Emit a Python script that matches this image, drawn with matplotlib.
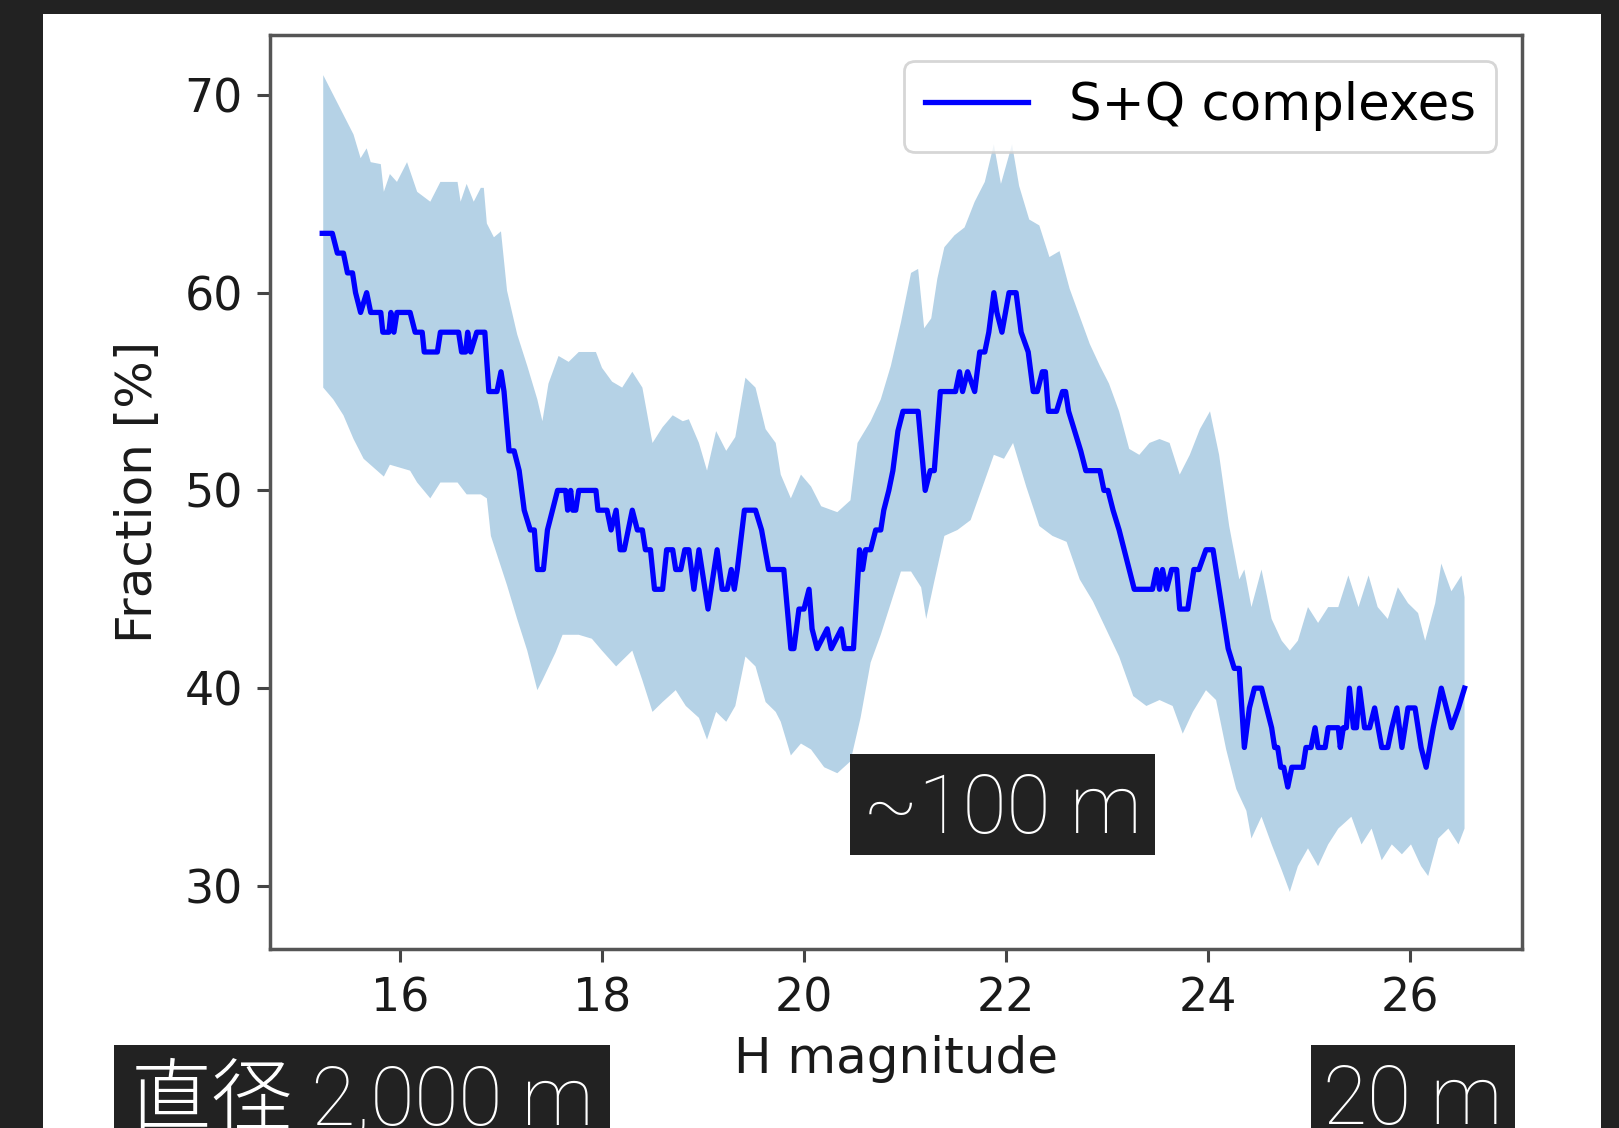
import numpy as np
import matplotlib
matplotlib.use('Agg')
import matplotlib.pyplot as plt
from matplotlib.patches import Rectangle

# ---------------- data ----------------
line_h = [15.23, 15.33, 15.38, 15.44, 15.48, 15.53, 15.56, 15.61, 15.67, 15.71,
          15.81, 15.83, 15.89, 15.91, 15.94, 15.97, 16.10, 16.15, 16.22, 16.24,
          16.37, 16.40, 16.58, 16.61, 16.65, 16.67, 16.70, 16.76, 16.84, 16.88,
          16.96, 17.00, 17.03, 17.08, 17.13, 17.18, 17.23, 17.29, 17.33, 17.36,
          17.42, 17.46, 17.51, 17.56, 17.64, 17.66, 17.69, 17.71, 17.74, 17.77,
          17.94, 17.96, 18.05, 18.09, 18.14, 18.18, 18.22, 18.30, 18.35, 18.40,
          18.43, 18.48, 18.52, 18.60, 18.64, 18.70, 18.73, 18.78, 18.82, 18.86,
          18.91, 18.96, 19.05, 19.14, 19.19, 19.24, 19.28, 19.31, 19.34, 19.41,
          19.52, 19.58, 19.65, 19.80, 19.87, 19.90, 19.95, 20.00, 20.05, 20.08,
          20.13, 20.23, 20.27, 20.37, 20.40, 20.49, 20.55, 20.58, 20.61, 20.66,
          20.71, 20.76, 20.79, 20.84, 20.88, 20.93, 20.98, 21.13, 21.20, 21.25,
          21.29, 21.35, 21.50, 21.54, 21.57, 21.62, 21.69, 21.74, 21.79, 21.83,
          21.88, 21.91, 21.96, 22.03, 22.10, 22.15, 22.22, 22.27, 22.31, 22.36,
          22.39, 22.42, 22.50, 22.56, 22.59, 22.62, 22.68, 22.74, 22.79, 22.93,
          22.97, 23.01, 23.06, 23.12, 23.17, 23.22, 23.27, 23.45, 23.49, 23.52,
          23.55, 23.59, 23.64, 23.69, 23.72, 23.80, 23.86, 23.91, 23.98, 24.05,
          24.11, 24.20, 24.26, 24.31, 24.36, 24.41, 24.46, 24.53, 24.58, 24.63,
          24.66, 24.69, 24.72, 24.75, 24.79, 24.83, 24.94, 24.97, 25.02, 25.06,
          25.09, 25.16, 25.19, 25.29, 25.31, 25.34, 25.37, 25.40, 25.44, 25.47,
          25.50, 25.55, 25.60, 25.65, 25.72, 25.78, 25.82, 25.87, 25.92, 25.98,
          26.05, 26.08, 26.11, 26.16, 26.23, 26.31, 26.36, 26.41, 26.48, 26.54]
line_frac = [63, 63, 62, 62, 61, 61, 60, 59, 60, 59,
             59, 58, 58, 59, 58, 59, 59, 58, 58, 57,
             57, 58, 58, 57, 57, 58, 57, 58, 58, 55,
             55, 56, 55, 52, 52, 51, 49, 48, 48, 46,
             46, 48, 49, 50, 50, 49, 50, 49, 49, 50,
             50, 49, 49, 48, 49, 47, 47, 49, 48, 48,
             47, 47, 45, 45, 47, 47, 46, 46, 47, 47,
             45, 47, 44, 47, 45, 45, 46, 45, 46, 49,
             49, 48, 46, 46, 42, 42, 44, 44, 45, 43,
             42, 43, 42, 43, 42, 42, 47, 46, 47, 47,
             48, 48, 49, 50, 51, 53, 54, 54, 50, 51,
             51, 55, 55, 56, 55, 56, 55, 57, 57, 58,
             60, 59, 58, 60, 60, 58, 57, 55, 55, 56,
             56, 54, 54, 55, 55, 54, 53, 52, 51, 51,
             50, 50, 49, 48, 47, 46, 45, 45, 46, 45,
             46, 45, 46, 46, 44, 44, 46, 46, 47, 47,
             45, 42, 41, 41, 37, 39, 40, 40, 39, 38,
             37, 37, 36, 36, 35, 36, 36, 37, 37, 38,
             37, 37, 38, 38, 37, 38, 38, 40, 38, 38,
             40, 38, 38, 39, 37, 37, 38, 39, 37, 39,
             39, 38, 37, 36, 38, 40, 39, 38, 39, 40]

upper_h = [15.24, 15.34, 15.44, 15.54, 15.61, 15.67, 15.71, 15.81, 15.84, 15.90,
           15.97, 16.07, 16.17, 16.30, 16.40, 16.57, 16.60, 16.66, 16.73, 16.80,
           16.83, 16.86, 16.93, 17.00, 17.06, 17.16, 17.26, 17.36, 17.41, 17.47,
           17.57, 17.67, 17.77, 17.94, 18.00, 18.10, 18.20, 18.30, 18.40, 18.50,
           18.60, 18.70, 18.80, 18.86, 18.96, 19.04, 19.13, 19.23, 19.32, 19.42,
           19.52, 19.62, 19.72, 19.77, 19.87, 19.97, 20.07, 20.17, 20.33, 20.46,
           20.53, 20.66, 20.76, 20.86, 20.96, 21.06, 21.13, 21.19, 21.26, 21.32,
           21.39, 21.49, 21.59, 21.69, 21.79, 21.88, 21.95, 22.06, 22.13, 22.23,
           22.33, 22.43, 22.53, 22.63, 22.73, 22.83, 22.93, 23.02, 23.12, 23.22,
           23.32, 23.42, 23.52, 23.62, 23.72, 23.82, 23.92, 24.02, 24.11, 24.21,
           24.31, 24.36, 24.43, 24.53, 24.63, 24.73, 24.81, 24.89, 24.99, 25.09,
           25.19, 25.29, 25.39, 25.49, 25.59, 25.68, 25.78, 25.88, 25.98, 26.08,
           26.15, 26.25, 26.31, 26.41, 26.51, 26.54]
upper_frac = [71, 70, 69, 68, 66.8, 67.3, 66.6, 66.5, 65.1, 66,
              65.6, 66.6, 65.1, 64.6, 65.6, 65.6, 64.6, 65.5, 64.6, 65.3,
              65.3, 63.5, 62.8, 63.1, 60.1, 57.9, 56.3, 54.6, 53.5, 55.4,
              56.8, 56.5, 57, 57, 56.2, 55.5, 55.2, 56, 55.2, 52.4,
              53.2, 53.8, 53.5, 53.6, 52.4, 51, 53, 52, 52.7, 55.7,
              55.2, 53.1, 52.4, 50.8, 49.6, 50.8, 50.2, 49.2, 48.9, 49.5,
              52.4, 53.5, 54.6, 56.3, 58.5, 61, 61.2, 58.2, 58.7, 60.7,
              62.3, 62.9, 63.3, 64.6, 65.6, 67.5, 65.5, 67.5, 65.4, 63.7,
              63.4, 61.8, 62.1, 60.2, 58.8, 57.4, 56.3, 55.4, 54, 52.1,
              51.8, 52.4, 52.6, 52.4, 50.8, 51.8, 53.1, 54, 51.8, 48.2,
              45.5, 46, 44.1, 46, 43.5, 42.4, 41.9, 42.4, 44.1, 43.3,
              44.1, 44.1, 45.7, 44.1, 45.7, 44.1, 43.5, 45.1, 44.3, 43.8,
              42.4, 44.3, 46.3, 44.9, 45.7, 44.6]

lower_h = [15.24, 15.34, 15.44, 15.54, 15.64, 15.84, 15.90, 16.10, 16.17, 16.30,
           16.40, 16.57, 16.66, 16.80, 16.86, 16.90, 17.06, 17.16, 17.26, 17.36,
           17.41, 17.54, 17.61, 17.77, 17.90, 18.00, 18.14, 18.30, 18.40, 18.50,
           18.60, 18.73, 18.83, 18.96, 19.04, 19.13, 19.23, 19.32, 19.42, 19.52,
           19.62, 19.72, 19.77, 19.87, 19.97, 20.07, 20.20, 20.33, 20.46, 20.56,
           20.66, 20.76, 20.86, 20.96, 21.06, 21.16, 21.21, 21.29, 21.39, 21.52,
           21.65, 21.79, 21.88, 21.98, 22.07, 22.20, 22.33, 22.46, 22.60, 22.73,
           22.86, 22.99, 23.12, 23.26, 23.39, 23.52, 23.65, 23.75, 23.85, 23.98,
           24.08, 24.18, 24.28, 24.38, 24.43, 24.53, 24.63, 24.73, 24.81, 24.89,
           24.99, 25.09, 25.19, 25.29, 25.42, 25.52, 25.62, 25.72, 25.82, 25.92,
           26.01, 26.11, 26.18, 26.28, 26.38, 26.48, 26.54]
lower_frac = [55.2, 54.6, 53.8, 52.6, 51.6, 50.7, 51.3, 51, 50.4, 49.6,
              50.4, 50.4, 49.8, 49.8, 49.6, 47.7, 45.2, 43.5, 41.9, 39.9,
              40.4, 41.8, 42.7, 42.7, 42.5, 41.9, 41.1, 41.9, 40.4, 38.8,
              39.3, 39.9, 39.1, 38.5, 37.4, 38.8, 38.3, 39.1, 41.6, 41.1,
              39.3, 38.8, 38.3, 36.6, 37.2, 36.9, 36, 35.7, 36.3, 38.5,
              41.3, 42.7, 44.3, 45.9, 45.9, 45.1, 43.5, 45.4, 47.7, 48,
              48.5, 50.5, 51.8, 51.6, 52.4, 50.2, 48.2, 47.7, 47.4, 45.5,
              44.4, 43, 41.6, 39.6, 39.1, 39.4, 39.1, 37.7, 38.8, 39.9,
              39.4, 36.9, 34.9, 33.8, 32.4, 33.5, 32.1, 30.8, 29.7, 31,
              31.9, 31, 32.1, 32.9, 33.5, 32.1, 32.9, 31.3, 32.1, 31.6,
              32.1, 31, 30.5, 32.4, 32.9, 32.1, 32.9]

x_ticks = [16, 18, 20, 22, 24, 26]
y_ticks = [30, 40, 50, 60, 70]
legend_label = 'S+Q complexes'
x_label = 'H magnitude'
y_label = 'Fraction [%]'
size_labels = ['~100 m', '直径 2,000 m', '20 m']

# ---------------- figure ----------------
W, H = 1619, 1128
DARK = '#222222'
fig = plt.figure(figsize=(W / 100, H / 100), dpi=100, facecolor=DARK)
fig.patches.append(Rectangle((43 / W, 0), (1601 - 43) / W, (H - 14) / H,
                             transform=fig.transFigure, facecolor='white',
                             edgecolor='none', zorder=-10))

ax = fig.add_axes([270 / W, 1 - 949 / H, (1522 - 270) / W, (949 - 35) / H])
ax.set_zorder(1)
ax.set_facecolor('white')

ax.fill(np.concatenate([upper_h, lower_h[::-1]]),
        np.concatenate([upper_frac, lower_frac[::-1]]),
        color='#1f77b4', alpha=0.33, lw=0, zorder=1)
ax.plot(line_h, line_frac, color='#0000ff', lw=3.8, label=legend_label, zorder=2)

ax.set_xlim(14.713, 27.109)
ax.set_ylim(26.81, 73.03)
ax.set_xticks(x_ticks)
ax.set_yticks(y_ticks)

for s in ax.spines.values():
    s.set_color('#555555')
    s.set_linewidth(2.5)
ax.tick_params(axis='both', labelsize=33, length=9.5, width=2.2, pad=10,
               color='#444444', labelcolor='#1a1a1a')

ax.set_xlabel(x_label, fontsize=36, color='#1a1a1a', labelpad=10)
ax.set_ylabel(y_label, fontsize=36, color='#1a1a1a', labelpad=16)

leg = ax.legend(loc='upper right', fontsize=37, handlelength=2.0,
                handletextpad=0.8, borderaxespad=0.5, framealpha=0.8,
                edgecolor='#cccccc')
leg.get_frame().set_linewidth(2)

# ---------------- size annotations (dark boxes) ----------------
ann_font = ['Roboto', 'Noto Sans CJK JP', 'DejaVu Sans']
boxes = [  # (left px, top px, width px, text baseline px)
    (850, 754, 305, 833),
    (114, 1045, 496, 1124),
    (1311, 1045, 204, 1124),
]
for (bx, by, bw, base), txt in zip(boxes, size_labels):
    fig.patches.append(Rectangle((bx / W, 1 - (by + 101) / H), bw / W, 101 / H,
                                 transform=fig.transFigure, facecolor=DARK,
                                 edgecolor='none', zorder=5))
    fig.text((bx + bw / 2) / W, 1 - base / H, txt, color='white', fontsize=58,
             family=ann_font, fontweight='light', ha='center', va='baseline',
             zorder=6)

fig.savefig('out.png', dpi=100, facecolor=fig.get_facecolor())
